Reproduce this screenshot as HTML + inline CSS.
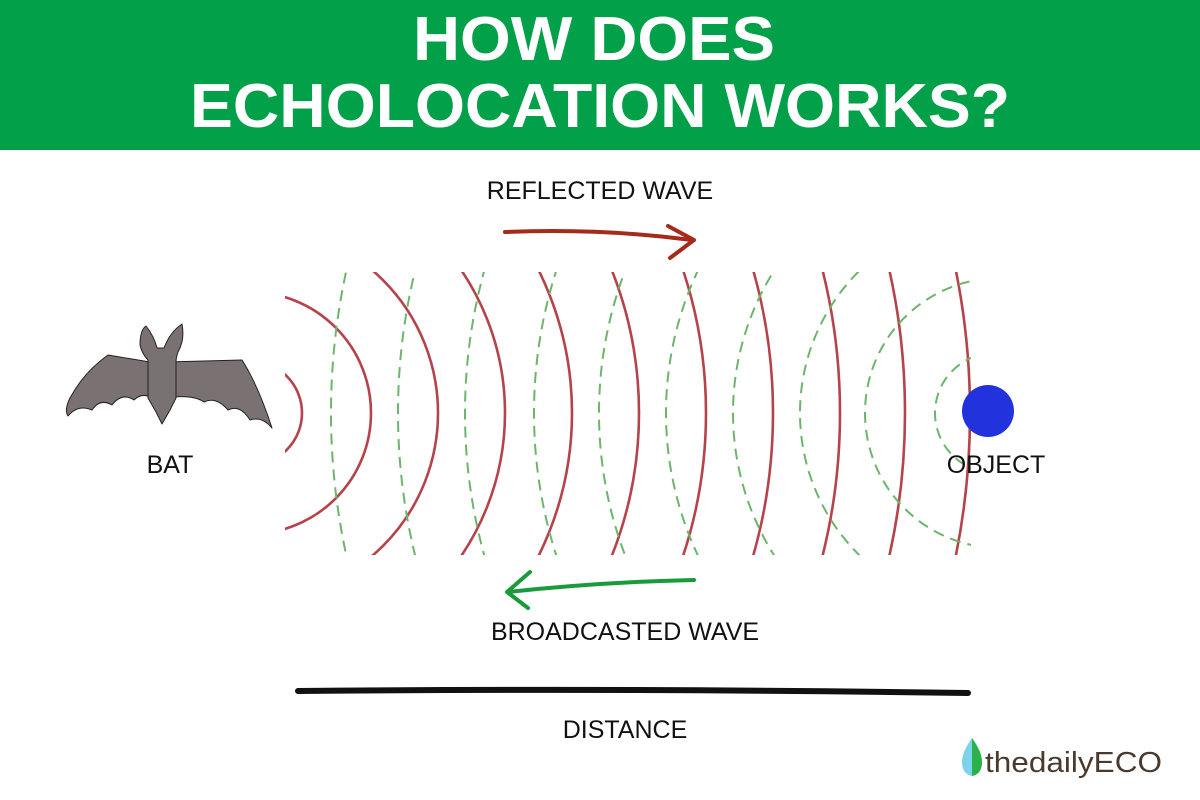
<!DOCTYPE html>
<html><head><meta charset="utf-8"><style>
html,body{margin:0;padding:0;background:#fff;overflow:hidden;width:1200px;height:800px}
svg{display:block}
</style></head><body>
<svg width="1200" height="800" viewBox="0 0 1200 800" xmlns="http://www.w3.org/2000/svg">
<rect width="1200" height="800" fill="#fff"/>
<rect width="1200" height="150" fill="#03a04a"/>
<g font-family="Liberation Sans, sans-serif" font-weight="bold" fill="#fff" font-size="62">
<text x="413" y="60" textLength="362" lengthAdjust="spacingAndGlyphs">HOW DOES</text>
<text x="190" y="127" textLength="820" lengthAdjust="spacingAndGlyphs">ECHOLOCATION WORKS?</text>
</g>
<defs><clipPath id="c"><rect x="285" y="272" width="686" height="283"/></clipPath></defs>
<g clip-path="url(#c)" fill="none">
<g stroke="#b5434a" stroke-width="2.6">
<circle cx="250" cy="413" r="52"/>
<circle cx="250" cy="413" r="121"/>
<circle cx="250" cy="413" r="188"/>
<circle cx="250" cy="413" r="255"/>
<circle cx="250" cy="413" r="322"/>
<circle cx="250" cy="413" r="389"/>
<circle cx="250" cy="413" r="456"/>
<circle cx="250" cy="413" r="523"/>
<circle cx="250" cy="413" r="590"/>
<circle cx="250" cy="413" r="655"/>
<circle cx="250" cy="413" r="720"/>
</g>
<rect x="250" y="355" width="35" height="120" fill="#fff"/>
<g stroke="#6cb56c" stroke-width="2" stroke-dasharray="11 7">
<circle cx="1000" cy="413" r="669"/>
<circle cx="1000" cy="413" r="602"/>
<circle cx="1000" cy="413" r="535"/>
<circle cx="1000" cy="413" r="466"/>
<circle cx="1000" cy="413" r="401"/>
<circle cx="1000" cy="413" r="334"/>
<circle cx="1000" cy="413" r="267"/>
<circle cx="1000" cy="413" r="200"/>
<circle cx="1000" cy="413" r="135"/>
<circle cx="995" cy="413" r="60"/>
</g>
</g>
<circle cx="988" cy="411" r="26" fill="#2233dd"/>
<g font-family="Liberation Sans, sans-serif" font-size="25" fill="#111">
<text x="600" y="199" text-anchor="middle">REFLECTED WAVE</text>
<text x="625" y="640" text-anchor="middle">BROADCASTED WAVE</text>
<text x="625" y="738" text-anchor="middle">DISTANCE</text>
<text x="170" y="473" text-anchor="middle">BAT</text>
<text x="996" y="473" text-anchor="middle">OBJECT</text>
</g>
<path d="M505 232 Q600 228 692 240" stroke="#a52a1a" stroke-width="4" fill="none" stroke-linecap="round"/>
<path d="M668 226 L694 240 L670 258" stroke="#a52a1a" stroke-width="4" fill="none" stroke-linecap="round" stroke-linejoin="round"/>
<path d="M694 580 Q600 582 508 592" stroke="#1a9a3a" stroke-width="4" fill="none" stroke-linecap="round"/>
<path d="M530 572 L507 592 L528 608" stroke="#1a9a3a" stroke-width="4" fill="none" stroke-linecap="round" stroke-linejoin="round"/>
<path d="M298 691 Q630 688 968 693" stroke="#111" stroke-width="6" fill="none" stroke-linecap="round"/>
<!-- bat -->
<g fill="#7a7272" stroke="#222" stroke-width="1" stroke-linejoin="round">
<path d="M150 362 L108 355 Q84 372 70 398 Q64 410 68 416 Q78 404 92 410 Q100 398 112 405 Q122 392 134 400 Q142 392 152 398 Z"/>
<path d="M166 362 L242 360 Q258 385 272 428 Q262 416 250 420 Q240 404 228 410 Q216 396 204 402 Q192 394 166 398 Z"/>
<path d="M140 345 Q140 330 146 326 Q154 336 157 348 L164 348 Q170 332 182 324 Q185 340 178 352 Q176 358 176 362 L176 398 L170 410 L162 424 L156 412 L148 398 L148 360 Q142 354 140 345 Z"/>
</g>
<!-- logo -->
<path d="M972 738 Q962 752 962 762 Q962 774 972 776 Q982 774 982 762 Q982 752 972 738 Z" fill="#7dd3ea"/>
<path d="M972 738 Q982 752 982 762 Q982 774 972 776 Z" fill="#2ab14a"/>
<text x="985" y="772" font-family="Liberation Sans, sans-serif" font-size="29" fill="#4a3a2e" textLength="177" lengthAdjust="spacingAndGlyphs">thedailyECO</text>
</svg>
</body></html>
